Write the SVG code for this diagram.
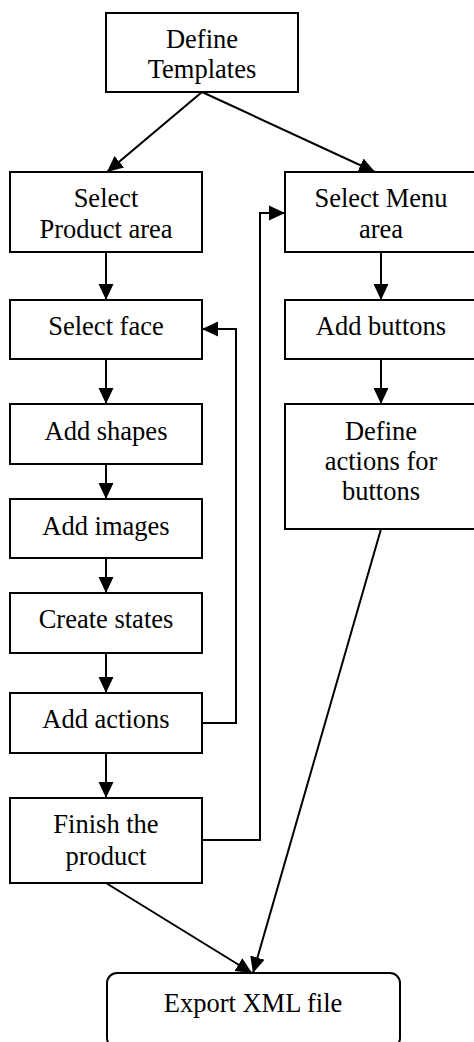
<svg xmlns="http://www.w3.org/2000/svg" width="474" height="1042" viewBox="0 0 474 1042">
<style>
.box{fill:#fff;stroke:#000;stroke-width:2}
.t{font-family:"Liberation Serif","Times New Roman",serif;font-size:26.5px;text-anchor:middle;fill:#000}
.c{fill:none;stroke:#000;stroke-width:2}
</style>
<defs>
<marker id="ah" markerUnits="userSpaceOnUse" markerWidth="16" markerHeight="16" viewBox="0 0 15 14" refX="15" refY="7" orient="auto">
<polygon points="0,0 15,7 0,14" fill="#000"/>
</marker>
</defs>
<rect width="474" height="1042" fill="#fff"/>
<g id="connectors">
<path class="c" d="M202,92 L107,172" marker-end="url(#ah)"/>
<path class="c" d="M202,92 L375,172" marker-end="url(#ah)"/>
<path class="c" d="M106,252 L106,300" marker-end="url(#ah)"/>
<path class="c" d="M106,359 L106,404" marker-end="url(#ah)"/>
<path class="c" d="M106,464 L106,499" marker-end="url(#ah)"/>
<path class="c" d="M106,558 L106,593" marker-end="url(#ah)"/>
<path class="c" d="M106,653 L106,693" marker-end="url(#ah)"/>
<path class="c" d="M106,753 L106,798" marker-end="url(#ah)"/>
<path class="c" d="M381,252 L381,300" marker-end="url(#ah)"/>
<path class="c" d="M381,359 L381,404" marker-end="url(#ah)"/>
<path class="c" d="M202,723 L236,723 L236,329 L202,329" marker-end="url(#ah)"/>
<path class="c" d="M202,840 L260,840 L260,213 L285,213" marker-end="url(#ah)"/>
<path class="c" d="M106,883 L252,973" marker-end="url(#ah)"/>
<path class="c" d="M381,529 L253,973" marker-end="url(#ah)"/>
</g>
<g id="define-templates"><rect class="box" x="106" y="13" width="192" height="79"/><text class="t" x="202" y="48">Define</text><text class="t" x="202" y="78">Templates</text></g>
<g id="select-product-area"><rect class="box" x="10" y="172" width="192" height="80"/><text class="t" x="106" y="207">Select</text><text class="t" x="106" y="238">Product area</text></g>
<g id="select-menu-area"><rect class="box" x="285" y="172" width="192" height="80"/><text class="t" x="381" y="207">Select Menu</text><text class="t" x="381" y="238">area</text></g>
<g id="select-face"><rect class="box" x="10" y="300" width="192" height="59"/><text class="t" x="106" y="335">Select face</text></g>
<g id="add-buttons"><rect class="box" x="285" y="300" width="192" height="59"/><text class="t" x="381" y="335">Add buttons</text></g>
<g id="add-shapes"><rect class="box" x="10" y="404" width="192" height="60"/><text class="t" x="106" y="440">Add shapes</text></g>
<g id="define-actions"><rect class="box" x="285" y="404" width="192" height="125"/><text class="t" x="381" y="440">Define</text><text class="t" x="381" y="470">actions for</text><text class="t" x="381" y="500">buttons</text></g>
<g id="add-images"><rect class="box" x="10" y="499" width="192" height="59"/><text class="t" x="106" y="535">Add images</text></g>
<g id="create-states"><rect class="box" x="10" y="593" width="192" height="60"/><text class="t" x="106" y="628">Create states</text></g>
<g id="add-actions"><rect class="box" x="10" y="693" width="192" height="60"/><text class="t" x="106" y="728">Add actions</text></g>
<g id="finish-product"><rect class="box" x="10" y="798" width="192" height="85"/><text class="t" x="106" y="833">Finish the</text><text class="t" x="106" y="865">product</text></g>
<g id="export-xml"><rect class="box" x="107" y="973" width="293" height="75" rx="10" ry="10"/><text class="t" x="253" y="1012">Export XML file</text></g>
</svg>
